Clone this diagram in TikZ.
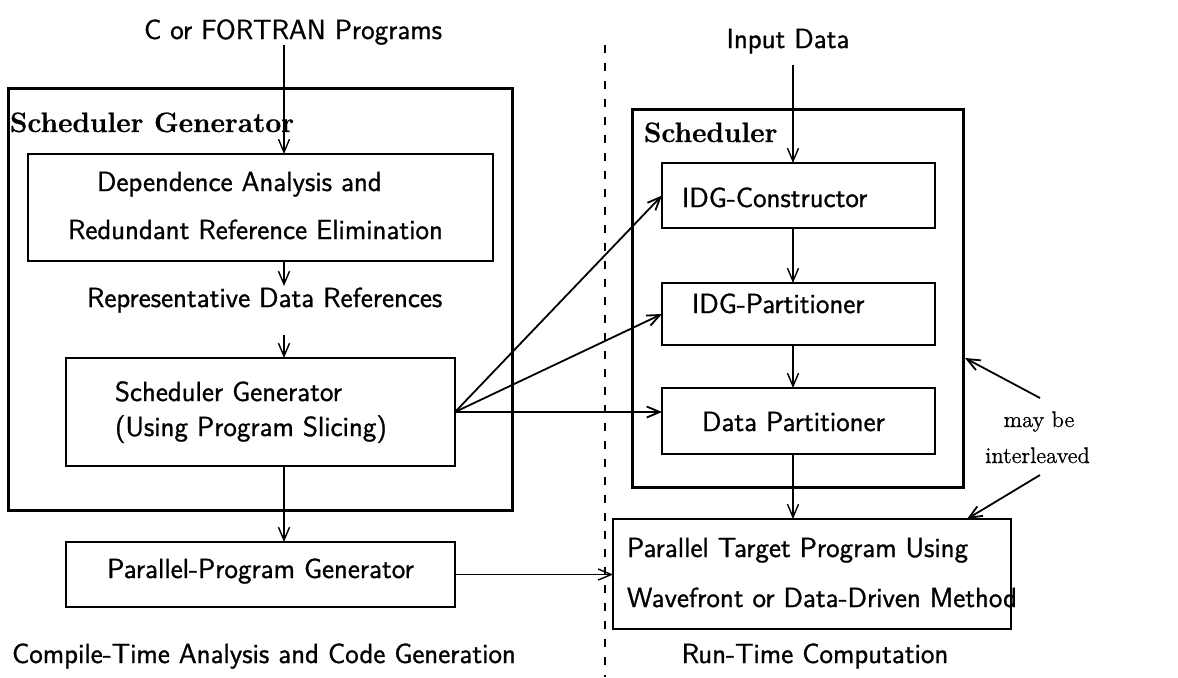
\documentclass[tikz,border=0pt]{standalone}
\usepackage{fontspec}
\setsansfont{Latin Modern Sans}[FakeBold=1.0]
\setmainfont{Latin Modern Roman}[FakeBold=0.7]
\usetikzlibrary{arrows.meta,calc}
\begin{document}
\begin{tikzpicture}[x=0.5pt,y=-0.5pt,
  every node/.style={inner sep=0pt, outer sep=0pt},
  sf/.style={font=\sffamily\fontsize{13.8}{16}\selectfont},
  hd/.style={font=\rmfamily\bfseries\fontsize{14}{16}\selectfont},
  note/.style={font=\rmfamily\fontsize{11.3}{13}\selectfont},
  bigbox/.style={draw, line width=1.5pt},
  box/.style={draw, line width=1pt},
  arr/.style={-{Straight Barb[length=6.5pt,width=5.5pt]}, line width=0.7pt},
  fan/.style={-{Straight Barb[length=6.5pt,width=5.5pt]}, line width=0.9pt},
]
\useasboundingbox (0,0) rectangle (1178,677);

% coordinates for vertical arrow columns
\coordinate (ca) at (284,0);
\coordinate (cb) at (793,0);

% left side
\node[sf, anchor=base] (cprog) at (293,39) {C or FORTRAN Programs};
\node[bigbox, minimum width=252pt, minimum height=211pt] (sg) at (260,299) {};
\node[hd, anchor=base west] (sglabel) at (10,132) {Scheduler Generator};
\node[box, minimum width=232.5pt, minimum height=53.5pt] (dep) at (260.5,207.5) {};
\node[sf, anchor=base west] (dep1) at (97,191) {Dependence Analysis and};
\node[sf, anchor=base west] (dep2) at (68,239) {Redundant Reference Elimination};
\node[sf, anchor=base west] (rep) at (87,307) {Representative Data References};
\coordinate (repout) at (284,335);
\node[box, minimum width=194.5pt, minimum height=54pt] (sgen) at (260.5,412) {};
\node[sf, anchor=base west] (sgen1) at (115,401) {Scheduler Generator};
\node[sf, anchor=base west] (sgen2) at (115,436) {(Using Program Slicing)};
\node[box, minimum width=194.5pt, minimum height=32.5pt] (ppg) at (260.5,574.5) {};
\node[sf, anchor=base] (ppgt) at (260.5,578) {Parallel-Program Generator};
\node[sf, anchor=base west] (ctime) at (12,663) {Compile-Time Analysis and Code Generation};

% divider
\coordinate (dtop) at (605,45);
\coordinate (dbot) at (605,677);
\draw[line width=1.1pt, dash pattern=on 4pt off 5pt] (dtop) -- (dbot);

% right side
\node[sf, anchor=base] (input) at (788,48) {Input Data};
\coordinate (inout) at (793,65);
\node[bigbox, minimum width=165.5pt, minimum height=189pt] (sched) at (797.5,298) {};
\node[hd, anchor=base west] (schedlabel) at (644,142) {Scheduler};
\node[box, minimum width=136.5pt, minimum height=32.5pt] (idgc) at (798.5,195.5) {};
\node[sf, anchor=base west] (idgct) at (682,207) {IDG-Constructor};
\node[box, minimum width=136.5pt, minimum height=31pt] (idgp) at (798.5,314) {};
\node[sf, anchor=base west] (idgpt) at (692,313) {IDG-Partitioner};
\node[box, minimum width=136.5pt, minimum height=33pt] (dp) at (798.5,421) {};
\node[sf, anchor=base west] (dpt) at (702,431) {Data Partitioner};
\node[box, minimum width=199pt, minimum height=55pt] (ptp) at (812,574) {};
\node[sf, anchor=base west] (ptp1) at (627,557) {Parallel Target Program Using};
\node[sf, anchor=base west] (ptp2) at (627,607) {Wavefront or Data-Driven Method};
\node[sf, anchor=base] (rtime) at (815,663) {Run-Time Computation};
\node[note, anchor=base] (maybe) at (1039,427) {may be};
\node[note, anchor=base] (inter) at (1037.5,463) {interleaved};
\coordinate (mbout) at (1040,398);
\coordinate (ilout) at (1040,475);

% connectors left
\draw[arr] (cprog.south -| ca) -- (dep.north -| ca);
\draw[arr] (dep.south -| ca) -- ($(dep.south -| ca)+(0,25)$);
\draw[arr] (repout) -- (sgen.north -| repout);
\draw[arr] (sgen.south -| ca) -- (ppg.north -| ca);
\draw[arr] (ppg.east) -- (ptp.west |- ppg.east);

% fan
\draw[fan] (sgen.east) -- (idgc.west);
\draw[fan] (sgen.east) -- (idgp.west);
\draw[fan] (sgen.east) -- (dp.west |- sgen.east);

% connectors right
\draw[arr] (inout) -- (idgc.north -| inout);
\draw[arr] (idgc.south -| cb) -- (idgp.north -| cb);
\draw[arr] (idgp.south -| cb) -- (dp.north -| cb);
\draw[arr] (dp.south -| cb) -- (ptp.north -| cb);
\draw[fan] (mbout) -- ($(sched.east)+(2,60)$);
\draw[fan] (ilout) -- ($(ptp.north east)+(-44,0)$);
\end{tikzpicture}
\end{document}
